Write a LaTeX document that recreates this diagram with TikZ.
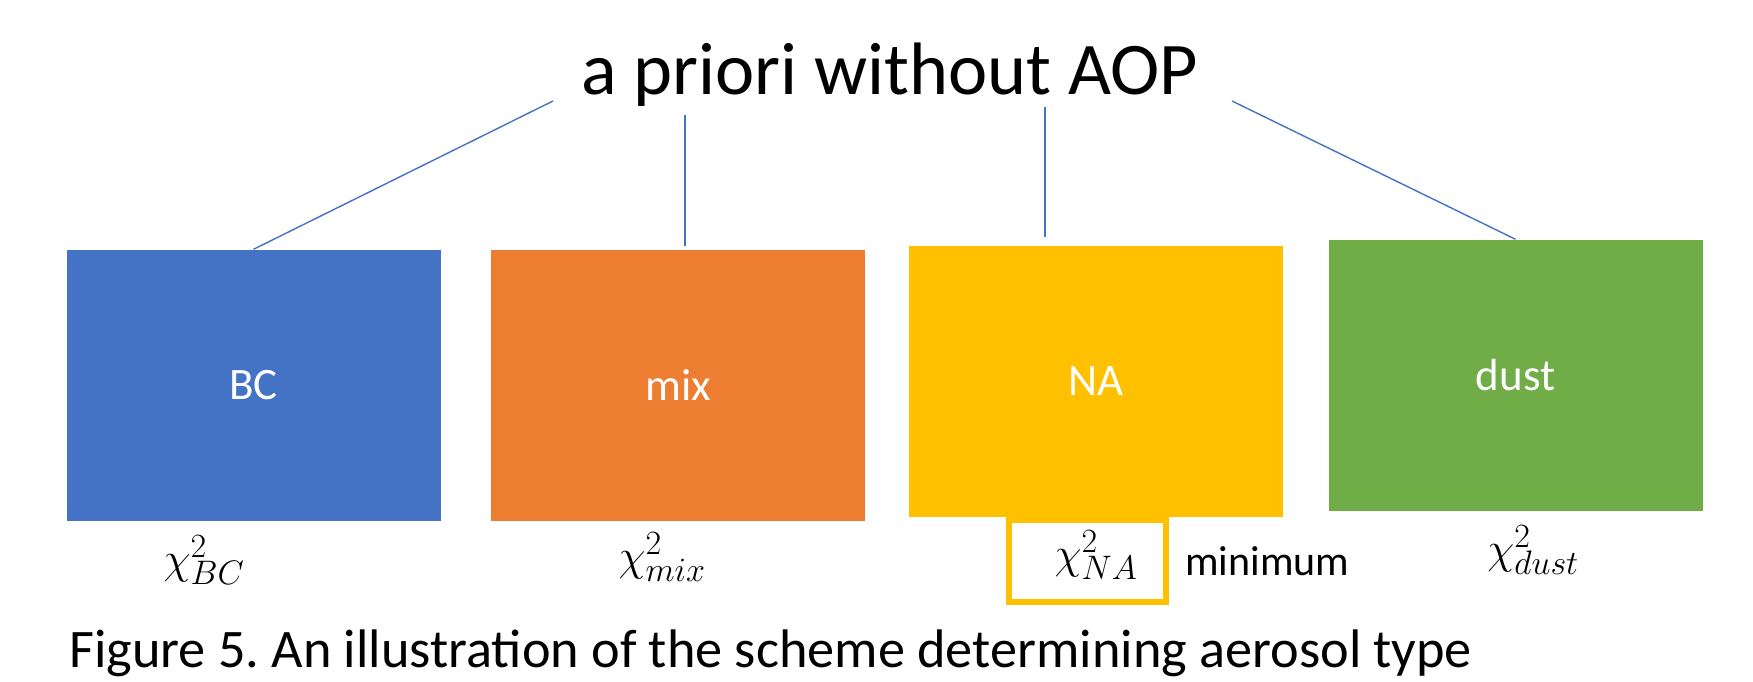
\RequirePackage{fix-cm}
\documentclass[tikz,border=0pt]{standalone}
\usepackage{fontspec}
\setmainfont{Carlito}
\frenchspacing
\DeclareMathSizes{44}{44}{34}{26}
\definecolor{cblue}{HTML}{4472C4}
\definecolor{corange}{HTML}{ED7D31}
\definecolor{cyellow}{HTML}{FFC000}
\definecolor{cgreen}{HTML}{70AD47}
\begin{document}
\begin{tikzpicture}[x=1pt,y=-1pt,
  typebox/.style={draw=none, minimum width=374pt, minimum height=271pt, inner sep=0pt, text=white, font=\fontsize{45}{54}\selectfont},
  link/.style={draw=cblue, line width=1.4pt},
  chilabel/.style={inner sep=0pt, font=\fontsize{44}{52}\selectfont},
  hilite/.style={draw=cyellow, line width=6pt, minimum width=157pt, minimum height=82pt, inner sep=0pt}]
\useasboundingbox (0,0) rectangle (1753,682);
\node[anchor=base, inner sep=0pt, font=\fontsize{74.3}{88}\selectfont] (title) at (890,95) {a priori without AOP};
\node[typebox, fill=cblue] (bc) at (253.5,385) {BC};
\node[typebox, fill=corange] (mix) at (678,385) {mix};
\node[typebox, fill=cyellow] (na) at (1096,381) {NA};
\node[typebox, fill=cgreen] (dust) at (1515.5,375) {dust};
\coordinate (t1) at (553,101);
\coordinate (t2) at (685,115);
\coordinate (t3) at (1045,107);
\coordinate (t4) at (1232,101);
\coordinate (b2) at (685,246);
\coordinate (b3) at (1045,237);
\draw[link] (t1) -- (bc.north);
\draw[link] (t2) -- (b2);
\draw[link] (t3) -- (b3);
\draw[link] (t4) -- (dust.north);
\node[chilabel] (cbc) at (204,560) {$\chi^2_{BC}$};
\node[chilabel] (cmix) at (662,557) {$\chi^2_{mix}$};
\node[hilite] (hl) at (1087.5,561) {};
\node[chilabel] (cna) at (1096,555) {$\chi^2_{NA}$};
\node[anchor=base west, inner sep=0pt, font=\fontsize{42}{50}\selectfont] (minimum) at (1185,575) {minimum};
\node[chilabel] (cdust) at (1533,550) {$\chi^2_{dust}$};
\node[anchor=base west, inner sep=0pt, font=\fontsize{54.3}{64}\selectfont] (caption) at (69,667) {Figure 5. An illustration of the scheme determining aerosol type};
\end{tikzpicture}
\end{document}
